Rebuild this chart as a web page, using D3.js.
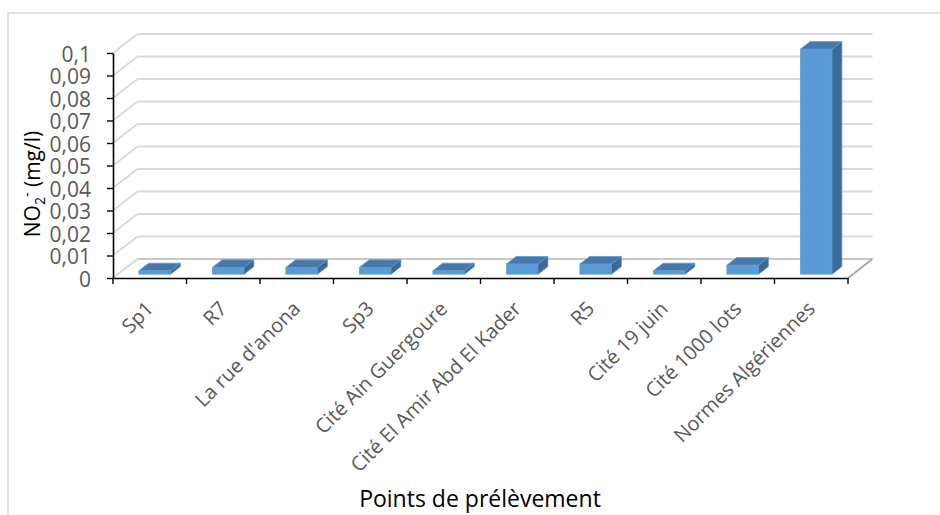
<!DOCTYPE html>
<html>
<head>
<meta charset="utf-8">
<script src="https://cdn.jsdelivr.net/npm/d3@7/dist/d3.min.js"></script>
<style>
  html, body { margin: 0; padding: 0; background: #fff; }
  svg { display: block; font-family: "Open Sans", sans-serif; }
</style>
</head>
<body>
<svg id="chart" width="940" height="515"></svg>
<script>
// Sampling points and measured nitrite concentrations (mg/l)
const categories = [
  "Sp1", "R7", "La rue d'anona", "Sp3", "Cité Ain Guergoure",
  "Cité El Amir Abd El Kader", "R5", "Cité 19 juin", "Cité 1000 lots",
  "Normes Algériennes"
];
const no2Values = [0.0015, 0.003, 0.003, 0.003, 0.0015, 0.0045, 0.0045, 0.0015, 0.004, 0.1];
const yTickValues = [0, 0.01, 0.02, 0.03, 0.04, 0.05, 0.06, 0.07, 0.08, 0.09, 0.1];
const xTitle = "Points de prélèvement";

const svg = d3.select("#chart");

// Plot frame (front plane) and the 3D depth offset
const plotLeft = 113, plotRight = 848, plotTop = 53, plotBottom = 278;
const depthX = 24.5, depthY = -19;
const barFrontDepth = 0.2, barBackDepth = 0.6;

const x = d3.scaleBand().domain(categories).range([plotLeft, plotRight]).paddingInner(0).paddingOuter(0);
const y = d3.scaleLinear().domain([0, 0.1]).range([plotBottom, plotTop]);

const locale = d3.formatLocale({ decimal: ",", thousands: " ", grouping: [3], currency: ["", ""] });
const fmt = locale.format("~g");

// Outer chart border
svg.append("rect")
  .attr("x", 8).attr("y", 13).attr("width", 1000).attr("height", 600)
  .attr("fill", "none").attr("stroke", "#d9d9d9").attr("stroke-width", 1.5);

// Back wall and side wall gridlines
const grid = svg.append("g");
yTickValues.forEach(v => {
  const yy = y(v);
  grid.append("line")
    .attr("x1", plotLeft).attr("y1", yy)
    .attr("x2", plotLeft + depthX).attr("y2", yy + depthY)
    .attr("stroke", "#d9d9d9").attr("stroke-width", 1.8);
  grid.append("line")
    .attr("x1", plotLeft + depthX).attr("y1", yy + depthY)
    .attr("x2", plotRight + depthX).attr("y2", yy + depthY)
    .attr("stroke", v === 0 ? "#c8c8c8" : "#d9d9d9").attr("stroke-width", 1.8);
});

// Floor right edge
svg.append("line")
  .attr("x1", plotRight).attr("y1", y(0))
  .attr("x2", plotRight + depthX).attr("y2", y(0) + depthY)
  .attr("stroke", "#a6a6a6").attr("stroke-width", 1.8);

// 3D columns
const barW = x.bandwidth() * 0.43;
const bars = svg.append("g");
categories.forEach((c, i) => {
  const v = no2Values[i];
  const cx = x(c) + x.bandwidth() / 2;
  const fx0 = cx - barW / 2 + depthX * barFrontDepth;
  const fx1 = fx0 + barW;
  const base = y(0) + depthY * barFrontDepth;
  const h = y(0) - y(v);
  const fTop = base - h;
  const sx = depthX * (barBackDepth - barFrontDepth);
  const sy = depthY * (barBackDepth - barFrontDepth);
  const g = bars.append("g");
  // side face
  g.append("path")
    .attr("d", `M${fx1},${base} L${fx1 + sx},${base + sy} L${fx1 + sx},${fTop + sy} L${fx1},${fTop} Z`)
    .attr("fill", "#3d6a95").attr("stroke", "#4a80b6").attr("stroke-width", 0.8);
  // top face
  g.append("path")
    .attr("d", `M${fx0},${fTop} L${fx1},${fTop} L${fx1 + sx},${fTop + sy} L${fx0 + sx},${fTop + sy} Z`)
    .attr("fill", "#4878aa").attr("stroke", "#5b9bd5").attr("stroke-width", 0.8);
  // front face
  g.append("rect")
    .attr("x", fx0).attr("y", fTop).attr("width", barW).attr("height", h)
    .attr("fill", "#5b9bd5").attr("stroke", "#5b9bd5").attr("stroke-width", 0.6);
});

// Y axis
const yAxis = svg.append("g")
  .attr("transform", `translate(${plotLeft},0)`)
  .call(d3.axisLeft(y).tickValues(yTickValues).tickSize(6).tickSizeOuter(0).tickPadding(16).tickFormat(fmt));
yAxis.select(".domain").attr("stroke", "#000").attr("stroke-width", 1.6);
yAxis.selectAll(".tick line").attr("stroke", "#000").attr("stroke-width", 1.4);
yAxis.selectAll(".tick text")
  .attr("fill", "#595959").attr("font-size", 21).attr("font-family", "Open Sans").attr("dy", "0.4em");

// X axis: line, boundary ticks and rotated category labels
const xAxis = svg.append("g")
  .attr("transform", `translate(0,${plotBottom})`)
  .call(d3.axisBottom(x).tickSize(0).tickSizeOuter(0));
xAxis.select(".domain").attr("stroke", "#000").attr("stroke-width", 1.6);
xAxis.selectAll(".tick text").remove();

const boundaries = d3.range(categories.length + 1).map(i => plotLeft + i * x.step());
xAxis.selectAll(".bound")
  .data(boundaries).enter().append("line")
  .attr("x1", d => d).attr("x2", d => d)
  .attr("y1", 0).attr("y2", 6)
  .attr("stroke", "#000").attr("stroke-width", 1.4);

svg.append("g").selectAll("text")
  .data(categories).enter().append("text")
  .attr("transform", d => `translate(${x(d) + x.bandwidth() / 2},${plotBottom + 27}) rotate(-45)`)
  .attr("text-anchor", "end")
  .attr("dy", "0.35em")
  .attr("fill", "#595959")
  .attr("font-size", 20)
  .text(d => d);

// Axis titles
svg.append("text")
  .attr("x", 480).attr("y", 507)
  .attr("text-anchor", "middle")
  .attr("font-size", 23)
  .attr("fill", "#000")
  .text(xTitle);

const yTitle = svg.append("text")
  .attr("transform", "translate(40,184) rotate(-90)")
  .attr("text-anchor", "middle")
  .attr("font-size", 21)
  .attr("fill", "#000");
yTitle.append("tspan").text("NO");
yTitle.append("tspan").attr("font-size", 14).attr("dy", 5).text("2");
yTitle.append("tspan").attr("font-size", 14).attr("dy", -13).text("-");
yTitle.append("tspan").attr("dy", 8).text(" (mg/l)");
</script>
</body>
</html>
